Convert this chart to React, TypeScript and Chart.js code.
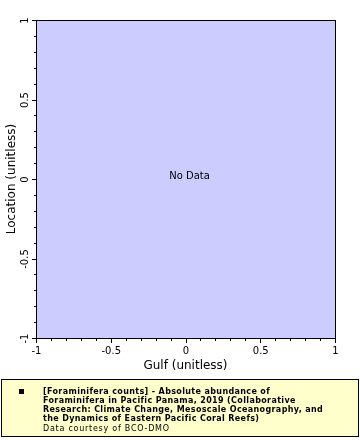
import React, { useEffect, useRef } from "react";
import { Chart, registerables } from "chart.js";

Chart.register(...registerables);

// ---- data (dataset is empty: "No Data") ----
const gulf: number[] = [];
const location: number[] = [];

const xTickLabels = ["-1", "-0.5", "0", "0.5", "1"];
const xTickValues = [-1, -0.5, 0, 0.5, 1];
const yTickLabels = ["-1", "-0.5", "0", "0.5", "1"];
const yTickValues = [-1, -0.5, 0, 0.5, 1];
const minorStep = 0.1;

const xTitle = "Gulf (unitless)";
const yTitle = "Location (unitless)";
const noDataText = "No Data";
const legendBoldLines = [
  "[Foraminifera counts] - Absolute abundance of",
  "Foraminifera in Pacific Panama, 2019 (Collaborative",
  "Research: Climate Change, Mesoscale Oceanography, and",
  "the Dynamics of Eastern Pacific Coral Reefs)",
];
const legendNormalLine = "Data courtesy of BCO-DMO";

const FONT = '"DejaVu Sans", sans-serif';

const isMajor = (v: number, arr: number[]) => arr.some((m) => Math.abs(m - v) < 1e-6);

const drawPlugin = {
  id: "customDraw",
  beforeDraw(chart: any) {
    const { ctx, chartArea } = chart;
    ctx.save();
    ctx.fillStyle = "#ccccff";
    ctx.fillRect(chartArea.left, chartArea.top, chartArea.right - chartArea.left, chartArea.bottom - chartArea.top);
    ctx.restore();
  },
  afterDraw(chart: any) {
    const { ctx, chartArea } = chart;
    const xs = chart.scales.x;
    const ys = chart.scales.y;
    const { left, right, top, bottom } = chartArea;
    ctx.save();
    ctx.strokeStyle = "#000";
    ctx.lineWidth = 1;
    ctx.strokeRect(left + 0.5, top + 0.5, right - left, bottom - top);

    // ticks
    ctx.beginPath();
    xs.ticks.forEach((t: any) => {
      const px = Math.round(xs.getPixelForValue(t.value)) + 0.5;
      const len = isMajor(t.value, xTickValues) ? 4 : 2;
      ctx.moveTo(px, bottom + 1);
      ctx.lineTo(px, bottom + 1 + len);
    });
    ys.ticks.forEach((t: any) => {
      const py = Math.round(ys.getPixelForValue(t.value)) + 0.5;
      const len = isMajor(t.value, yTickValues) ? 4 : 2;
      ctx.moveTo(left, py);
      ctx.lineTo(left - len, py);
    });
    ctx.stroke();

    // tick labels
    ctx.fillStyle = "#000";
    ctx.font = `10px ${FONT}`;
    ctx.textAlign = "center";
    ctx.textBaseline = "alphabetic";
    xTickValues.forEach((v, i) => {
      ctx.fillText(xTickLabels[i], xs.getPixelForValue(v) + 0.5, bottom + 16);
    });
    yTickValues.forEach((v, i) => {
      ctx.save();
      ctx.translate(28, ys.getPixelForValue(v) + 0.5);
      ctx.rotate(-Math.PI / 2);
      ctx.fillText(yTickLabels[i], 0, 0);
      ctx.restore();
    });

    // axis titles
    ctx.font = `12px ${FONT}`;
    ctx.fillText(xTitle, (left + right) / 2, bottom + 31);
    ctx.save();
    ctx.translate(15, (top + bottom) / 2);
    ctx.rotate(-Math.PI / 2);
    ctx.fillText(yTitle, 0, 0);
    ctx.restore();

    // no data
    if (chart.data.datasets[0].data.length === 0) {
      ctx.font = `10px ${FONT}`;
      ctx.textBaseline = "middle";
      ctx.fillText(noDataText, (left + right) / 2 + 4, (top + bottom) / 2 - 3);
    }

    // legend
    ctx.fillStyle = "#ffffcc";
    ctx.fillRect(1.5, 379.5, 357, 57);
    ctx.strokeStyle = "#000";
    ctx.strokeRect(1.5, 379.5, 357, 57);
    ctx.fillStyle = "#000";
    ctx.fillRect(19, 389, 5, 5);
    ctx.textAlign = "left";
    ctx.textBaseline = "alphabetic";
    ctx.font = `bold 8px ${FONT}`;
    (ctx as any).letterSpacing = "0.36px";
    legendBoldLines.forEach((line, i) => {
      ctx.fillText(line, 43, 393.5 + i * 9);
    });
    ctx.font = `8px ${FONT}`;
    (ctx as any).letterSpacing = "0.75px";
    ctx.fillText(legendNormalLine, 43, 431);
    (ctx as any).letterSpacing = "0px";
    ctx.restore();
  },
};

export default function App() {
  const canvasRef = useRef<HTMLCanvasElement | null>(null);

  useEffect(() => {
    if (!canvasRef.current) return;
    const chart = new Chart(canvasRef.current, {
      type: "scatter",
      data: {
        datasets: [
          {
            label: "Foraminifera counts",
            data: gulf.map((x, i) => ({ x, y: location[i] })),
            backgroundColor: "#000",
            pointRadius: 2,
          },
        ],
      },
      options: {
        responsive: false,
        animation: false,
        layout: { padding: { top: 20, right: 25, left: 0, bottom: 0 } },
        plugins: { legend: { display: false }, tooltip: { enabled: false } },
        scales: {
          x: {
            type: "linear",
            min: -1,
            max: 1,
            ticks: { display: false, stepSize: minorStep },
            grid: { display: false },
            border: { display: false },
            afterFit: (s: any) => {
              s.height = 102;
            },
          },
          y: {
            type: "linear",
            min: -1,
            max: 1,
            ticks: { display: false, stepSize: minorStep },
            grid: { display: false },
            border: { display: false },
            afterFit: (s: any) => {
              s.width = 36;
            },
          },
        },
      },
      plugins: [drawPlugin],
    } as any);
    return () => chart.destroy();
  }, []);

  return (
    <div style={{ position: "absolute", left: 0, top: 0, width: 360, height: 440, background: "#fff" }}>
      <canvas ref={canvasRef} width={360} height={440} style={{ display: "block" }} />
    </div>
  );
}
